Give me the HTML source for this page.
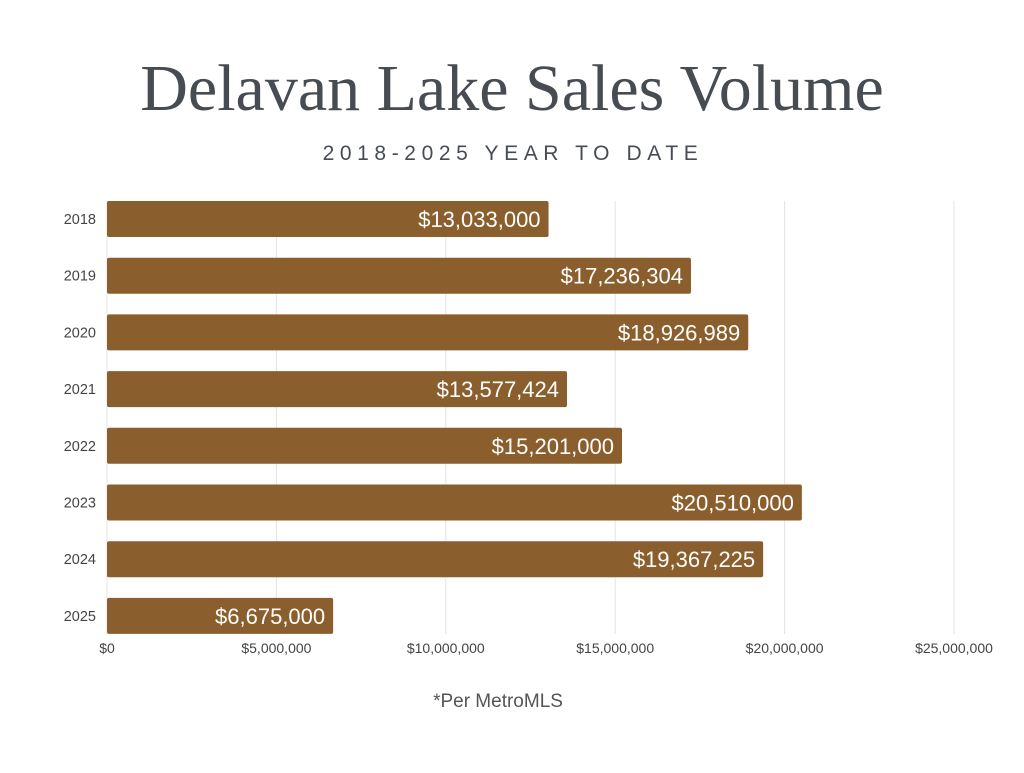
<!DOCTYPE html>
<html><head><meta charset="utf-8"><style>
body{margin:0;background:#fff;width:1024px;height:768px;overflow:hidden;font-family:"Liberation Sans",sans-serif}
</style></head><body>
<svg width="1024" height="768">
<text x="512" y="110" text-anchor="middle" font-family="Liberation Serif, serif" font-size="66" fill="#474c53">Delavan Lake Sales Volume</text>
<text x="513" y="160" text-anchor="middle" font-size="21" letter-spacing="5.6" fill="#474c53">2018-2025 YEAR TO DATE</text>
<g id="grid"></g><g id="bars"></g><g id="axis"></g>
<text x="498" y="707" text-anchor="middle" font-size="19" fill="#555">*Per MetroMLS</text>
</svg>
<script>
const years=["2018","2019","2020","2021","2022","2023","2024","2025"];
const values=[13033000,17236304,18926989,13577424,15201000,20510000,19367225,6675000];
const labels=["$13,033,000","$17,236,304","$18,926,989","$13,577,424","$15,201,000","$20,510,000","$19,367,225","$6,675,000"];
const ticks=[0,5000000,10000000,15000000,20000000,25000000];
const tickLabels=["$0","$5,000,000","$10,000,000","$15,000,000","$20,000,000","$25,000,000"];
const NS="http://www.w3.org/2000/svg";
const x=v=>107+v/25000000*847;
const y=i=>201+i*56.7;
function mk(t,a,p){const e=document.createElementNS(NS,t);for(const k in a)e.setAttribute(k,a[k]);p.appendChild(e);return e;}
const g=document.getElementById('grid'),b=document.getElementById('bars'),ax=document.getElementById('axis');
ticks.forEach((t,i)=>{
 const l=mk('line',{x1:x(t),x2:x(t),y1:201,y2:634,stroke:'#e3e3e3','stroke-width':1},g);
 
 
 const tx=mk('text',{x:x(t),y:653,'text-anchor':'middle','font-size':14,fill:'#444'},ax);
 tx.textContent=tickLabels[i];
 
 
});
years.forEach((yr,i)=>{
 const r=mk('rect',{x:107,y:y(i),width:x(values[i])-107,height:36,rx:2,fill:'#8a5f2d'},b);
 
 
 const vt=mk('text',{x:x(values[i])-8,y:y(i)+26,'text-anchor':'end','font-size':22,fill:'#fff'},b);
 vt.textContent=labels[i];
 
 
 const yt=mk('text',{x:96,y:y(i)+23,'text-anchor':'end','font-size':14.5,fill:'#444'},ax);
 yt.textContent=yr;
 
 
});
</script>
</body></html>
